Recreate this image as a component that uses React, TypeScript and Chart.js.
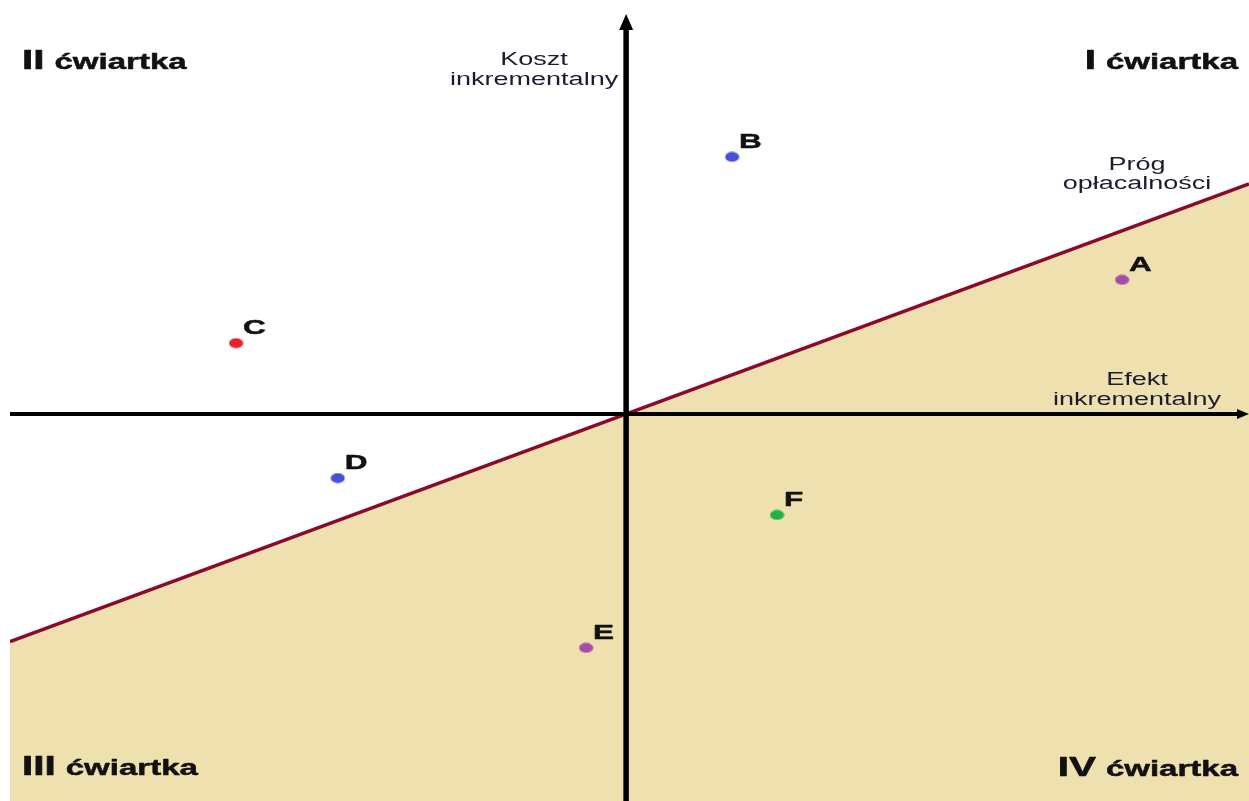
import React, { useEffect, useRef } from "react";
import { Chart, registerables } from "chart.js";

Chart.register(...registerables);

// ---- data ----
const pointNames = ["A", "B", "C", "D", "E", "F"];
const effectValues = [8.05, 1.72, -6.33, -4.68, -0.65, 2.45];
const costValues = [3.24, 6.21, 1.71, -1.55, -5.65, -2.44];
const pointColors = ["#A64CAA", "#4352D8", "#E8212B", "#4352D8", "#A64CAA", "#22B04A"];

const thresholdEffect = [-10, 10.11];
const thresholdCost = [-5.5, 5.56];

const xRange = [-10, 10.11];
const yRange = [-9.35, 10];

const quadrantNumerals = ["I", "II", "III", "IV"];
const quadrantWord = "ćwiartka";
const yAxisTitle = ["Koszt", "inkrementalny"];
const xAxisTitle = ["Efekt", "inkrementalny"];
const thresholdTitle = ["Próg", "opłacalności"];

const FONT = '"Liberation Sans", Arial, sans-serif';
const STRETCH = 1.5;

function makeEllipse(color: string): HTMLCanvasElement {
  const c = document.createElement("canvas");
  c.width = 15;
  c.height = 11;
  const g = c.getContext("2d")!;
  g.fillStyle = color;
  g.beginPath();
  g.ellipse(7.5, 5.5, 7, 5, 0, 0, Math.PI * 2);
  g.fill();
  return c;
}

function textW(ctx: CanvasRenderingContext2D, t: string, font: string) {
  ctx.font = font;
  return ctx.measureText(t).width * STRETCH;
}

function drawText(
  ctx: CanvasRenderingContext2D,
  t: string,
  x: number,
  y: number,
  font: string,
  color: string,
  align: CanvasTextAlign = "left",
  heavy = 0
) {
  ctx.save();
  ctx.translate(x, y);
  ctx.scale(STRETCH, 1);
  ctx.font = font;
  ctx.fillStyle = color;
  ctx.textAlign = align;
  ctx.textBaseline = "alphabetic";
  ctx.fillText(t, 0, 0);
  if (heavy > 0) {
    ctx.strokeStyle = color;
    ctx.lineWidth = heavy;
    ctx.lineJoin = "round";
    ctx.strokeText(t, 0, 0);
  }
  ctx.restore();
}

const overlayPlugin = {
  id: "cePlane",
  afterDatasetsDraw(chart: any) {
    const ctx: CanvasRenderingContext2D = chart.ctx;
    const area = chart.chartArea;
    const xs = chart.scales.x;
    const ys = chart.scales.y;
    const ox = xs.getPixelForValue(0);
    const oy = ys.getPixelForValue(0);

    ctx.save();
    ctx.fillStyle = "#000";
    ctx.strokeStyle = "#000";
    // horizontal axis
    ctx.lineWidth = 4;
    ctx.beginPath();
    ctx.moveTo(area.left, oy);
    ctx.lineTo(area.right - 10, oy);
    ctx.stroke();
    ctx.beginPath();
    ctx.moveTo(area.right, oy);
    ctx.lineTo(area.right - 12, oy - 5);
    ctx.lineTo(area.right - 12, oy + 5);
    ctx.closePath();
    ctx.fill();
    // vertical axis
    ctx.lineWidth = 5.5;
    ctx.beginPath();
    ctx.moveTo(ox, area.bottom);
    ctx.lineTo(ox, area.top + 27);
    ctx.stroke();
    ctx.beginPath();
    ctx.moveTo(ox, area.top + 14);
    ctx.lineTo(ox - 7, area.top + 30);
    ctx.lineTo(ox + 7, area.top + 30);
    ctx.closePath();
    ctx.fill();
    ctx.restore();

    // point labels
    const labelFont = `bold 21px ${FONT}`;
    pointNames.forEach((name, i) => {
      const px = xs.getPixelForValue(effectValues[i]);
      const py = ys.getPixelForValue(costValues[i]);
      drawText(ctx, name, px + 7, py - 9, labelFont, "#111", "left", 0.5);
    });

    // quadrant labels
    const numFont = `bold 27px ${FONT}`;
    const wordFont = `bold 22px ${FONT}`;
    const gap = 10;
    const ink = "#111";
    const topBase = area.top + 69;
    const botBase = area.bottom - 26;
    const leftX = area.left + 12;
    const rightX = area.right - 11;
    // II (top-left)
    {
      const n = quadrantNumerals[1];
      const nw = textW(ctx, n, numFont);
      drawText(ctx, n, leftX, topBase, numFont, ink, "left", 0.6);
      drawText(ctx, quadrantWord, leftX + nw + gap, topBase, wordFont, ink, "left", 0.5);
    }
    // III (bottom-left)
    {
      const n = quadrantNumerals[2];
      const nw = textW(ctx, n, numFont);
      drawText(ctx, n, leftX, botBase, numFont, ink, "left", 0.6);
      drawText(ctx, quadrantWord, leftX + nw + gap, botBase, wordFont, ink, "left", 0.5);
    }
    // I (top-right)
    {
      const n = quadrantNumerals[0];
      const ww = textW(ctx, quadrantWord, wordFont);
      const nw = textW(ctx, n, numFont);
      drawText(ctx, quadrantWord, rightX - ww, topBase, wordFont, ink, "left", 0.5);
      drawText(ctx, n, rightX - ww - gap - nw, topBase, numFont, ink, "left", 0.6);
    }
    // IV (bottom-right)
    {
      const n = quadrantNumerals[3];
      const ww = textW(ctx, quadrantWord, wordFont);
      const nw = textW(ctx, n, numFont);
      drawText(ctx, quadrantWord, rightX - ww, botBase + 1, wordFont, ink, "left", 0.5);
      drawText(ctx, n, rightX - ww - gap - nw, botBase + 1, numFont, ink, "left", 0.6);
    }

    // axis titles
    const tFont = `18px ${FONT}`;
    const tCol = "#1c1c30";
    const yTitleX = ox - 92;
    drawText(ctx, yAxisTitle[0], yTitleX, area.top + 65, tFont, tCol, "center");
    drawText(ctx, yAxisTitle[1], yTitleX, area.top + 85, tFont, tCol, "center");
    const rTitleX = area.right - 112;
    drawText(ctx, xAxisTitle[0], rTitleX, oy - 29, tFont, tCol, "center");
    drawText(ctx, xAxisTitle[1], rTitleX, oy - 9, tFont, tCol, "center");
    drawText(ctx, thresholdTitle[0], rTitleX, area.top + 170, tFont, tCol, "center");
    drawText(ctx, thresholdTitle[1], rTitleX, area.top + 189, tFont, tCol, "center");
  },
};

export default function App() {
  const ref = useRef<HTMLCanvasElement>(null);

  useEffect(() => {
    if (!ref.current) return;
    const chart = new Chart(ref.current, {
      type: "scatter",
      data: {
        datasets: [
          {
            type: "scatter",
            data: effectValues.map((x, i) => ({ x, y: costValues[i] })),
            pointStyle: pointColors.map((c) => makeEllipse(c)) as any,
            pointRadius: 7,
            pointHoverRadius: 7,
            backgroundColor: pointColors,
            borderWidth: 0,
            order: 1,
          } as any,
          {
            type: "line",
            data: thresholdEffect.map((x, i) => ({ x, y: thresholdCost[i] })),
            borderColor: "#8B0A2C",
            borderWidth: 3.5,
            pointRadius: 0,
            fill: "start",
            backgroundColor: "#EEE1AF",
            tension: 0,
            order: 10,
          } as any,
        ],
      },
      options: {
        responsive: false,
        maintainAspectRatio: false,
        animation: false,
        layout: { autoPadding: false, padding: { left: 10, top: 0, right: 0, bottom: 0 } },
        scales: {
          x: { type: "linear", min: xRange[0], max: xRange[1], display: false },
          y: { type: "linear", min: yRange[0], max: yRange[1], display: false },
        },
        plugins: {
          legend: { display: false },
          tooltip: { enabled: false },
        },
        events: [],
      } as any,
      plugins: [overlayPlugin],
    });
    return () => chart.destroy();
  }, []);

  return (
    <div style={{ position: "fixed", left: 0, top: 0, width: 1249, height: 801, background: "#fff" }}>
      <canvas ref={ref} width={1249} height={801} style={{ display: "block" }} />
    </div>
  );
}
